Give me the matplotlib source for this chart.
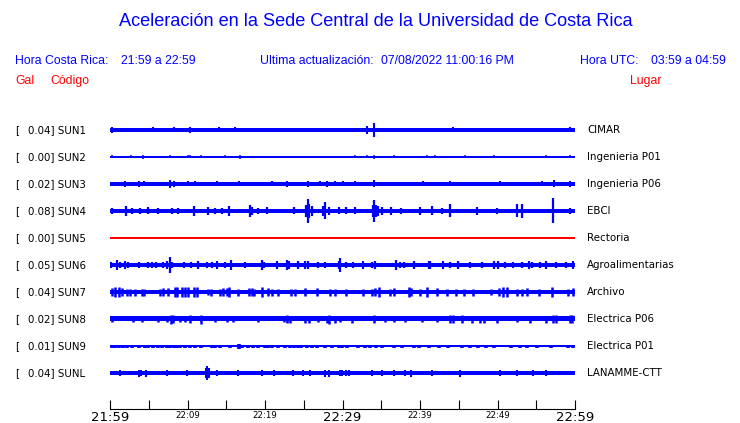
import matplotlib
matplotlib.use("Agg")
import matplotlib.pyplot as plt
import matplotlib.transforms as mtransforms

# station rows, top to bottom
codes = ["SUN1", "SUN2", "SUN3", "SUN4", "SUN5", "SUN6", "SUN7", "SUN8", "SUN9", "SUNL"]
places = ["CIMAR", "Ingenieria P01", "Ingenieria P06", "EBCI", "Rectoria",
          "Agroalimentarias", "Archivo", "Electrica P06", "Electrica P01", "LANAMME-CTT"]
peak_gal = [0.04, 0.00, 0.02, 0.08, 0.00, 0.05, 0.04, 0.02, 0.01, 0.04]
trace_colors = ["blue", "blue", "blue", "blue", "red", "blue", "blue", "blue", "blue", "blue"]

# background noise level of each trace (half width, px of a 27 px row)
noise_level = [1.7, 0.6, 2.0, 2.2, 0.6, 1.9, 2.0, 2.5, 0.7, 1.8]

# bursts: (minute after 21:59, half amplitude)
sun1_events = [(0.2, 3), (5.6, 2.5), (8.3, 2.5), (10.3, 3), (14.0, 2.5), (16.1, 2.5),
               (22.2, 2), (28.6, 2), (33.1, 4), (34.1, 7), (44.3, 2.5), (52.9, 2), (59.4, 2.5)]
sun2_events = [(0.2, 1.5), (2.7, 1.5), (4.3, 2), (7.7, 1.5), (10.0, 1.5), (10.3, 1.5),
               (11.8, 1.5), (14.9, 1.5), (16.8, 2), (31.6, 1.5), (33.1, 1.5), (34.0, 2),
               (36.7, 1.5), (40.9, 1.5), (41.9, 1.5), (45.8, 1.5), (49.5, 1.5), (56.3, 1.5),
               (59.4, 1.5)]
sun3_events = [(1.9, 3), (3.7, 3), (4.4, 2.5), (7.7, 4), (8.2, 3), (10.1, 2.5), (11.0, 2.5),
               (13.8, 2.5), (16.6, 2.5), (20.9, 2.5), (22.8, 3), (25.6, 3), (27.1, 2.5),
               (28.0, 3), (29.0, 2.5), (30.1, 2.5), (31.6, 2.5), (34.1, 3.5), (40.4, 2.5),
               (43.9, 2.5), (50.3, 2.5), (55.7, 2.5), (57.3, 3.5), (59.4, 3)]
sun4_events = [(0.2, 3), (2.0, 5), (2.8, 3), (3.9, 3), (4.9, 3.5), (6.2, 3), (8.0, 3),
               (8.8, 3), (10.8, 4.7), (12.6, 4), (13.5, 3), (14.4, 3), (15.3, 5),
               (18.1, 6), (18.3, 4), (19.1, 3), (20.3, 3.5), (23.7, 3.5), (25.3, 6),
               (25.5, 12), (25.7, 7), (26.0, 5), (27.5, 5), (27.7, 8.5), (28.2, 4),
               (29.5, 3.5), (30.5, 3.5), (31.6, 3.5), (33.9, 6), (34.1, 11), (34.3, 6),
               (34.6, 5), (35.1, 4), (36.3, 4), (37.6, 3), (40.0, 4), (41.6, 4.5),
               (42.8, 3), (43.9, 6.5), (47.3, 4), (49.9, 3), (52.5, 6.5), (53.1, 7),
               (57.2, 12.5), (59.4, 3)]
sun5_events = []
sun6_events = [(0.1, 3), (0.9, 5), (1.3, 3), (1.9, 3.5), (2.3, 3), (3.7, 3), (4.9, 3),
               (5.4, 3), (5.9, 3), (6.8, 3), (7.3, 3.5), (7.7, 8), (8.0, 3), (9.5, 3),
               (10.5, 3), (11.3, 3.5), (12.5, 3), (13.1, 3), (13.8, 3.5), (14.8, 3),
               (15.6, 4.5), (17.4, 3), (19.6, 4.5), (19.9, 3), (21.5, 3.5), (22.8, 5),
               (23.1, 4), (24.3, 3.5), (25.2, 3.5), (25.6, 4), (26.9, 3), (27.7, 3),
               (29.5, 3.5), (29.7, 7), (30.5, 3), (31.4, 3), (32.6, 3.5), (33.8, 3),
               (34.2, 3.5), (36.9, 5), (37.4, 3), (37.9, 3), (39.2, 4), (41.1, 4),
               (41.3, 3.5), (43.0, 4), (43.9, 3), (44.9, 3.5), (46.5, 3), (48.0, 3),
               (49.5, 4), (50.0, 4), (51.0, 3), (52.0, 3), (53.1, 3), (54.0, 3.5),
               (54.5, 3), (55.5, 3), (56.3, 3.5), (57.6, 3), (58.9, 3), (59.8, 3.5)]
sun7_events = [(0.2, 4), (0.6, 4.5), (1.1, 4.5), (1.5, 4), (2.2, 3.5), (2.6, 3.5),
               (3.2, 3.5), (4.1, 3.5), (4.4, 3.5), (6.5, 3.5), (6.9, 4), (7.5, 4),
               (8.4, 5.5), (8.7, 5), (9.3, 4.5), (9.7, 4.5), (10.1, 4.5), (10.8, 4.5),
               (11.2, 5.5), (12.7, 3), (13.0, 3.5), (14.2, 3.5), (14.6, 4), (15.1, 4),
               (15.3, 5), (16.5, 3.5), (17.9, 4), (18.3, 4), (18.6, 3.5), (19.6, 4.5),
               (20.4, 4), (20.9, 3.5), (21.7, 3.5), (23.4, 3.5), (23.9, 3.5), (25.1, 4),
               (26.7, 4), (28.4, 3.5), (29.0, 3.5), (30.5, 3.5), (32.7, 3.5), (33.8, 3.5),
               (34.2, 4), (34.7, 5.5), (36.1, 3.5), (36.6, 4), (38.6, 5.5), (38.9, 4),
               (40.0, 3.5), (40.9, 4.5), (42.2, 4), (43.5, 3.5), (44.7, 3.5), (45.7, 3.5),
               (46.8, 3.5), (49.1, 3), (50.2, 4), (50.7, 4.5), (51.2, 5.5), (52.5, 3.5),
               (53.1, 3.5), (53.8, 4), (55.3, 3.5), (57.0, 4.5), (59.1, 3.5), (59.8, 4)]
sun8_events = [(0.2, 3), (3.0, 3), (4.1, 3), (6.2, 3), (7.3, 3), (7.9, 4.5), (8.1, 4),
               (9.0, 3), (9.7, 3), (10.3, 4), (11.8, 4.5), (13.5, 3), (15.1, 3), (15.9, 3),
               (19.1, 3), (22.4, 3), (22.8, 4), (23.2, 3.5), (25.2, 3.5), (25.7, 3.5),
               (26.9, 3), (28.0, 3.5), (28.3, 4.5), (29.0, 3.5), (29.7, 3), (31.2, 3.5),
               (34.0, 3.7), (35.5, 3), (36.6, 3), (38.1, 3), (40.2, 3), (42.2, 3),
               (43.9, 4), (44.3, 4), (45.4, 4), (46.7, 3.5), (47.7, 3.5), (48.2, 3.5),
               (49.9, 3.5), (52.5, 3), (54.2, 3.5), (56.3, 3.5), (57.2, 4), (57.6, 4),
               (59.3, 4), (59.6, 4)]
sun9_events = [(0.2, 1.5), (0.6, 1.5), (1.1, 1.5), (1.7, 1.5), (2.2, 1.5), (2.8, 1.5),
               (3.7, 1.5), (4.5, 1.5), (4.9, 1.5), (5.6, 1.5), (6.2, 1.5), (6.7, 1.5),
               (7.3, 1.5), (7.7, 1.5), (8.2, 1.5), (8.6, 1.5), (9.0, 1.5), (9.7, 1.5),
               (10.3, 1.5), (11.0, 1.5), (11.8, 1.5), (13.1, 1.5), (13.5, 1.5), (14.2, 1.5),
               (15.5, 1.5), (16.6, 2.5), (17.0, 1.5), (17.8, 1.5), (18.5, 1.5), (19.1, 1.5),
               (20.0, 1.5), (20.4, 1.5), (20.9, 1.5), (21.7, 1.5), (22.6, 1.5), (23.2, 1.5),
               (23.7, 1.5), (24.3, 1.5), (24.7, 1.5), (25.4, 1.5), (26.0, 1.5), (26.7, 1.5),
               (27.7, 1.5), (28.6, 1.5), (29.5, 1.5), (29.9, 1.5), (30.6, 1.5), (32.0, 1.5),
               (32.9, 1.5), (33.6, 1.5), (34.3, 1.5), (35.1, 1.5), (36.6, 1.5), (37.7, 1.5),
               (39.2, 1.5), (39.9, 1.5), (41.2, 1.5), (42.4, 1.5), (43.6, 1.5), (45.4, 1.5),
               (46.5, 1.5), (47.5, 1.5), (48.5, 1.5), (49.5, 1.5), (51.8, 1.5), (52.9, 1.5),
               (53.8, 1.5), (55.1, 1.5), (56.9, 1.5), (59.1, 1.5), (59.7, 1.5)]
sunl_events = [(1.3, 3), (3.7, 3.5), (4.0, 3), (4.7, 3.5), (7.3, 3), (9.9, 3), (12.4, 5),
               (12.5, 7), (12.8, 5), (13.8, 3), (16.5, 3), (19.6, 3), (21.2, 3), (23.6, 3),
               (24.9, 3), (25.8, 3), (27.7, 3.5), (28.2, 3.5), (29.7, 3), (29.9, 3),
               (30.5, 3), (30.9, 3), (33.8, 3), (35.1, 3), (36.6, 3), (38.1, 3), (38.9, 3.5),
               (41.5, 3), (45.2, 3.5), (50.3, 3), (52.5, 3), (54.6, 3), (56.3, 3)]
events = [sun1_events, sun2_events, sun3_events, sun4_events, sun5_events,
          sun6_events, sun7_events, sun8_events, sun9_events, sunl_events]

tick_minutes = list(range(0, 61, 5))
tick_labels = ["21:59", "", "22:09", "", "22:19", "", "22:29", "", "22:39", "", "22:49", "", "22:59"]
big_labels = ["21:59", "22:29", "22:59"]

ROW_PX = 27.0
W, H = 740, 423
fig = plt.figure(figsize=(W / 100, H / 100), dpi=100)
fig.patch.set_facecolor("white")

ax = fig.add_axes([110 / W, 14 / H, 465 / W, 295.2 / H])
ax.set_xlim(0, 60)
ax.set_ylim(9 + 36 / ROW_PX, -0.6)

# width of the burst strokes per trace (pt)
burst_lw = [1.5, 1.1, 1.5, 1.6, 1.0, 1.6, 1.8, 1.8, 2.6, 1.5]

for i, code in enumerate(codes):
    col = trace_colors[i]
    half = noise_level[i] / ROW_PX
    ax.fill_between([0, 60], i - half, i + half, color=col, lw=0)
    if events[i]:
        t = [e[0] for e in events[i]]
        a = [e[1] / ROW_PX for e in events[i]]
        ax.vlines(t, [i - v for v in a], [i + v for v in a], color=col, lw=burst_lw[i])

for s in ["top", "left", "right"]:
    ax.spines[s].set_visible(False)
ax.spines["bottom"].set_linewidth(0.8)
ax.set_yticks([])
ax.set_xticks(tick_minutes)
ax.set_xticklabels(tick_labels)
ax.tick_params(axis="x", direction="in", length=6.5, width=0.8, pad=1.5)
for lab in ax.get_xticklabels():
    if lab.get_text() in big_labels:
        lab.set_fontsize(9.5)
    else:
        lab.set_fontsize(6.2)

# station labels on each side
trans = mtransforms.blended_transform_factory(fig.transFigure, ax.transData)
for i, code in enumerate(codes):
    ax.text(15 / W, i, "[", transform=trans, fontsize=7.4, va="center", ha="left")
    ax.text(27.5 / W, i, f"{peak_gal[i]:.2f}] {code}", transform=trans,
            fontsize=7.4, va="center", ha="left")
    ax.text(587 / W, i, places[i], transform=trans, fontsize=7.4, va="center", ha="left")

hfont = "Liberation Sans"
fig.text(376 / W, 1 - 22 / H, "Aceleración en la Sede Central de la Universidad de Costa Rica",
         family=hfont, fontsize=13.1, color="blue", ha="center", va="center")
fig.text(15 / W, 1 - 61 / H, "Hora Costa Rica:", family=hfont, fontsize=8.8, color="blue", va="center")
fig.text(121 / W, 1 - 61 / H, "21:59 a 22:59", family=hfont, fontsize=8.8, color="blue", va="center")
fig.text(260 / W, 1 - 61 / H, "Ultima actualización:", family=hfont, fontsize=8.8, color="blue", va="center")
fig.text(381 / W, 1 - 61 / H, "07/08/2022 11:00:16 PM", family=hfont, fontsize=8.8, color="blue", va="center")
fig.text(580 / W, 1 - 61 / H, "Hora UTC:", family=hfont, fontsize=8.8, color="blue", va="center")
fig.text(651 / W, 1 - 61 / H, "03:59 a 04:59", family=hfont, fontsize=8.8, color="blue", va="center")
fig.text(15 / W, 1 - 81 / H, "Gal", family=hfont, fontsize=8.8, color="red", va="center")
fig.text(50 / W, 1 - 81 / H, "Código", family=hfont, fontsize=8.8, color="red", va="center")
fig.text(630 / W, 1 - 81 / H, "Lugar", family=hfont, fontsize=8.8, color="red", va="center")

fig.savefig("out.png", dpi=100)
